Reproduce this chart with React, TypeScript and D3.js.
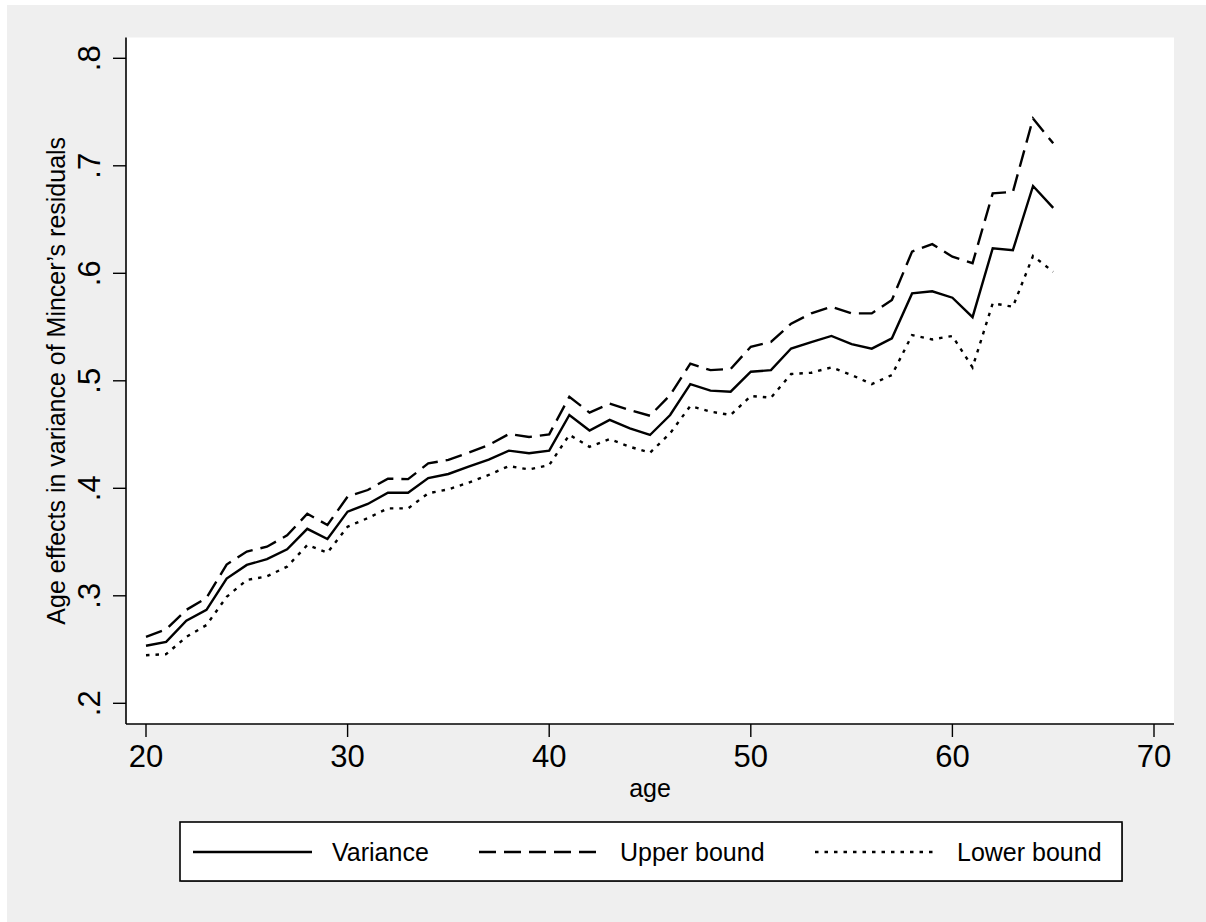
import React from "react";
import * as d3 from "d3";

const ages: number[] = d3.range(20, 66);

const variance: number[] = [
  0.2535, 0.2571, 0.2769, 0.2869, 0.316, 0.3287, 0.3341, 0.3432, 0.3623, 0.3528,
  0.3783, 0.3854, 0.3959, 0.3959, 0.4095, 0.4133, 0.4201, 0.4266, 0.435, 0.4326,
  0.435, 0.4682, 0.4537, 0.4636, 0.4557, 0.4496, 0.4682, 0.4969, 0.4909, 0.4899,
  0.5084, 0.5099, 0.53, 0.536, 0.5417, 0.5341, 0.5299, 0.5395, 0.5813, 0.5833,
  0.5773, 0.5592, 0.6233, 0.6215, 0.6812, 0.6609,
];

const upperBound: number[] = [
  0.2618, 0.2688, 0.2869, 0.298, 0.3291, 0.3412, 0.3457, 0.3562, 0.3763, 0.3659,
  0.3922, 0.3984, 0.409, 0.4085, 0.4232, 0.4264, 0.4331, 0.4403, 0.4505, 0.4477,
  0.4502, 0.4852, 0.4704, 0.4788, 0.4728, 0.4675, 0.4868, 0.516, 0.5099, 0.511,
  0.5317, 0.5361, 0.5531, 0.5627, 0.5689, 0.5627, 0.5627, 0.5752, 0.6202, 0.6271,
  0.6154, 0.6094, 0.6744, 0.6757, 0.744, 0.7209,
];

const lowerBound: number[] = [
  0.2447, 0.2457, 0.2618, 0.2728, 0.299, 0.3147, 0.3181, 0.3271, 0.3472, 0.3402,
  0.3643, 0.3723, 0.3813, 0.3813, 0.3954, 0.399, 0.4053, 0.4124, 0.4207, 0.4175,
  0.4216, 0.4498, 0.4386, 0.4457, 0.4386, 0.4331, 0.4512, 0.4766, 0.4713, 0.4682,
  0.4858, 0.4843, 0.5063, 0.5075, 0.5125, 0.5054, 0.4969, 0.5054, 0.5426, 0.5385,
  0.5417, 0.5125, 0.5721, 0.5689, 0.6162, 0.6014,
];

const xTicks: number[] = [20, 30, 40, 50, 60, 70];
const yTicks: number[] = [0.2, 0.3, 0.4, 0.5, 0.6, 0.7, 0.8];
const yTickLabels: string[] = [".2", ".3", ".4", ".5", ".6", ".7", ".8"];

const seriesNames: string[] = ["Variance", "Upper bound", "Lower bound"];

const xTitle = "age";
const yTitle = "Age effects in variance of Mincer\u2019s residuals";

export default function App() {
  const W = 1206;
  const H = 922;
  const plot = { left: 126, right: 1174, top: 37.5, bottom: 724 };
  const x = d3.scaleLinear().domain([20, 70]).range([146, 1154]);
  const y = d3.scaleLinear().domain([0.2, 0.8]).range([703.3, 58.3]);

  const line = d3
    .line<number>()
    .x((_, i) => x(ages[i]))
    .y((d) => y(d));

  const styles = [
    { dash: undefined as string | undefined },
    { dash: "17,8" },
    { dash: "3.5,6" },
  ];
  const data = [variance, upperBound, lowerBound];
  const font = "'Liberation Sans', Arial, Helvetica, sans-serif";

  const legendKeys = [
    { x1: 193, x2: 312, tx: 332 },
    { x1: 479, x2: 603, tx: 620 },
    { x1: 815, x2: 934, tx: 957 },
  ];
  const legendY = 852;

  return (
    <svg
      width={W}
      height={H}
      style={{ position: "absolute", left: 0, top: 0, display: "block" }}
      fontFamily={font}
    >
      <rect x={0} y={0} width={W} height={H} fill="#ffffff" />
      <rect x={7} y={5} width={W - 7} height={H - 5} fill="#efefef" />
      <rect
        x={plot.left}
        y={plot.top}
        width={plot.right - plot.left}
        height={plot.bottom - plot.top}
        fill="#ffffff"
      />

      {data.map((s, i) => (
        <path
          key={seriesNames[i]}
          d={line(s) || ""}
          fill="none"
          stroke="#000"
          strokeWidth={2.4}
          strokeDasharray={styles[i].dash}
        />
      ))}

      {/* axes */}
      <line x1={plot.left} x2={plot.left} y1={plot.top} y2={plot.bottom} stroke="#000" strokeWidth={1.6} />
      <line x1={plot.left} x2={plot.right} y1={plot.bottom} y2={plot.bottom} stroke="#000" strokeWidth={1.6} />

      {yTicks.map((t, i) => (
        <g key={"yt" + t}>
          <line x1={plot.left - 13} x2={plot.left} y1={y(t)} y2={y(t)} stroke="#000" strokeWidth={1.4} />
          <text
            transform={`translate(${100},${y(t)}) rotate(-90)`}
            textAnchor="middle"
            fontSize={31}
            fill="#000"
          >
            {yTickLabels[i]}
          </text>
        </g>
      ))}

      {xTicks.map((t) => (
        <g key={"xt" + t}>
          <line x1={x(t)} x2={x(t)} y1={plot.bottom} y2={plot.bottom + 13} stroke="#000" strokeWidth={1.4} />
          <text x={x(t)} y={767} textAnchor="middle" fontSize={31} fill="#000">
            {t}
          </text>
        </g>
      ))}

      <text x={(plot.left + plot.right) / 2} y={797} textAnchor="middle" fontSize={25} fill="#000">
        {xTitle}
      </text>
      <text
        transform={`translate(${65},${(plot.top + plot.bottom) / 2}) rotate(-90)`}
        textAnchor="middle"
        fontSize={25}
        fill="#000"
      >
        {yTitle}
      </text>

      {/* legend */}
      <rect x={181} y={823} width={942} height={59} fill="#8c8c8c" />
      <rect x={180} y={822} width={942} height={59} fill="#ffffff" stroke="#000" strokeWidth={1.6} />
      {seriesNames.map((n, i) => (
        <g key={"lg" + n}>
          <line
            x1={legendKeys[i].x1}
            x2={legendKeys[i].x2}
            y1={legendY}
            y2={legendY}
            stroke="#000"
            strokeWidth={2.4}
            strokeDasharray={styles[i].dash}
          />
          <text x={legendKeys[i].tx} y={legendY + 9} fontSize={25} fill="#000">
            {n}
          </text>
        </g>
      ))}
    </svg>
  );
}
